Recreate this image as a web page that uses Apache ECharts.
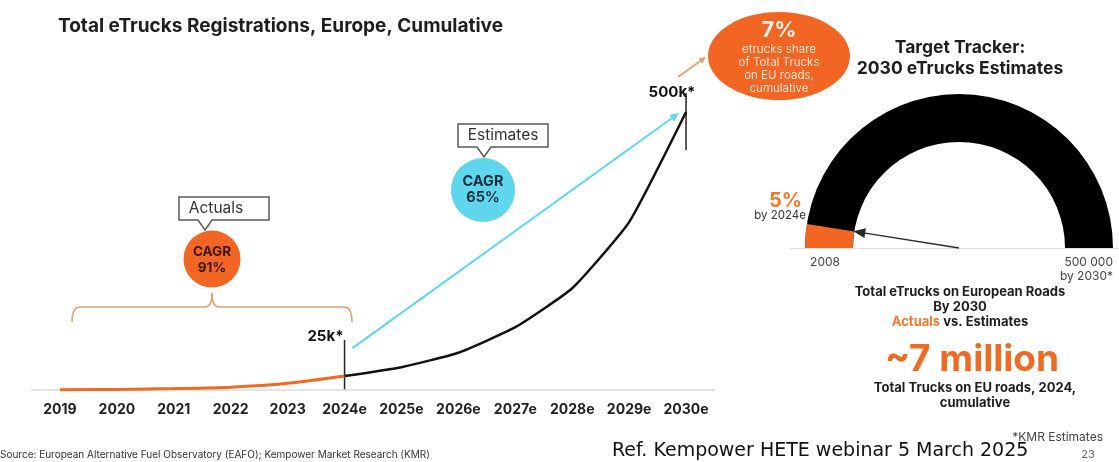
<!DOCTYPE html>
<html>
<head>
<meta charset="utf-8">
<script src="https://cdn.jsdelivr.net/npm/echarts@6/dist/echarts.min.js"></script>
<style>
  html, body { margin: 0; padding: 0; background: #fff; }
  #chart { width: 1119px; height: 462px; }
</style>
</head>
<body>
<div id="chart"></div>
<script>
// Cumulative eTruck registrations in Europe, thousands
const years = ['2019', '2020', '2021', '2022', '2023', '2024e', '2025e', '2026e', '2027e', '2028e', '2029e', '2030e'];
const actuals = [0.5, 1, 2.5, 5, 12, 25, null, null, null, null, null, null];
const estimates = [null, null, null, null, null, 25, 41, 67, 113, 183, 302, 500];

// Target tracker gauge: eTrucks on roads now vs. 2030 target
const trackerNow = 25000;
const trackerTarget = 500000;

const FONT = 'Inter, "Noto Sans", sans-serif';
const ORANGE = '#f26522';
const TAN = '#e3a06c';
const CYAN = '#5fd6ec';

const chart = echarts.init(document.getElementById('chart'), null, { renderer: 'canvas' });

const option = {
  backgroundColor: '#fff',
  animation: false,
  grid: { left: 31.5, right: 404.5, top: 112, bottom: 72 },
  xAxis: {
    type: 'category',
    data: years,
    boundaryGap: true,
    axisLine: { lineStyle: { color: '#dcdcdc', width: 1.5 } },
    axisTick: { show: false },
    axisLabel: { interval: 0, color: '#222', fontFamily: FONT, fontWeight: 'bold', fontSize: 14, margin: 13 }
  },
  yAxis: { type: 'value', min: 0, max: 500, show: false, splitLine: { show: false } },
  series: [
    {
      name: 'Actuals', type: 'line', data: actuals, smooth: 0.3, symbol: 'none',
      lineStyle: { color: '#ef6a22', width: 3 }, z: 3
    },
    {
      name: 'Estimates', type: 'line', data: estimates, smooth: 0.15, symbol: 'none',
      lineStyle: { color: '#111', width: 2.5 }, z: 2
    },
    {
      name: 'Tracker', type: 'gauge',
      center: [959, 248], radius: 154,
      startAngle: 180, endAngle: 0,
      min: 0, max: trackerTarget,
      axisLine: { lineStyle: { width: 48, color: [[1, '#000']] } },
      progress: { show: true, width: 48, itemStyle: { color: ORANGE } },
      splitLine: { show: false }, axisTick: { show: false }, axisLabel: { show: false },
      pointer: {
        icon: 'path://M5,0 L10,12 L5.7,12 L5.7,107 L4.3,107 L4.3,12 L0,12 Z',
        length: 107, width: 10,
        itemStyle: { color: '#2a2a2a' }
      },
      anchor: { show: false }, title: { show: false }, detail: { show: false },
      data: [{ value: trackerNow }]
    }
  ]
};

chart.setOption(option);

// ---- annotations anchored to the data points ----
const i24 = years.indexOf('2024e');
const i30 = years.indexOf('2030e');
const p24 = chart.convertToPixel({ seriesIndex: 1 }, [i24, estimates[i24]]);
const p30 = chart.convertToPixel({ seriesIndex: 1 }, [i30, estimates[i30]]);
const base = chart.convertToPixel({ seriesIndex: 1 }, [0, 0])[1];

function arrow(x1, y1, x2, y2, color, width, head) {
  const a = Math.atan2(y2 - y1, x2 - x1);
  const hx = x2 - head * Math.cos(a), hy = y2 - head * Math.sin(a);
  const nx = -Math.sin(a) * head * 0.45, ny = Math.cos(a) * head * 0.45;
  return [
    { type: 'line', shape: { x1, y1, x2: hx, y2: hy }, style: { stroke: color, lineWidth: width }, silent: true },
    { type: 'polygon', shape: { points: [[x2, y2], [hx + nx, hy + ny], [hx - nx, hy - ny]] }, style: { fill: color }, silent: true }
  ];
}

function seg(x1, y1, x2, y2, color, width) {
  return { type: 'line', shape: { x1, y1, x2, y2 }, style: { stroke: color, lineWidth: width }, silent: true };
}

function curve(x1, y1, cx, cy, x2, y2, color, width) {
  return { type: 'bezierCurve', shape: { x1, y1, x2, y2, cpx1: cx, cpy1: cy }, style: { stroke: color, lineWidth: width, fill: null }, silent: true };
}

function txt(x, y, text, size, color, weight, align, family) {
  return {
    type: 'text', x, y, silent: true,
    style: {
      text, fill: color, fontSize: size, fontWeight: weight || 'normal',
      fontFamily: family || FONT, align: align || 'center', verticalAlign: 'middle'
    }
  };
}

function callout(l, t, r, b, tipX, tipY) {
  return {
    type: 'polygon', silent: true,
    shape: { points: [[l, t], [r, t], [r, b], [tipX + 7, b], [tipX, tipY], [tipX - 7, b], [l, b]] },
    style: { stroke: '#5a5a5a', lineWidth: 1.5, fill: '#fff' }
  };
}

const fmtK = v => v + 'k*';
const share = Math.round(trackerNow / trackerTarget * 100) + '%';

const g = [];
// title
g.push(txt(58, 26, 'Total eTrucks Registrations, Europe, Cumulative', 19, '#1e1e1e', 'bold', 'left'));

// value markers
g.push(seg(p24[0], p24[1] - 36, p24[0], base, '#222', 1.5));
g.push(txt(p24[0] - 1, p24[1] - 40, fmtK(estimates[i24]), 15, '#111', 'bold', 'right'));
g.push(seg(p30[0], p30[1] - 19, p30[0], p30[1] + 38, '#222', 1.5));
g.push(txt(p30[0] - 14, p30[1] - 20, fmtK(estimates[i30]), 15, '#111', 'bold', 'center'));

// growth arrow between the markers
g.push(...arrow(p24[0] + 8, p24[1] - 28, p30[0] - 7, p30[1] + 1, CYAN, 2, 9));
// arrow to share bubble
g.push(...arrow(p30[0] - 8, p30[1] - 35, p30[0] + 20, p30[1] - 55, TAN, 1.8, 7));

// actuals brace
g.push(curve(72, 322, 72, 307, 80, 307, TAN, 1.6));
g.push(seg(80, 307, 205, 307, TAN, 1.6));
g.push(curve(205, 307, 212, 307, 212, 293, TAN, 1.6));
g.push(curve(212, 293, 212, 307, 219, 307, TAN, 1.6));
g.push(seg(219, 307, 344, 307, TAN, 1.6));
g.push(curve(344, 307, 352, 307, 352, 322, TAN, 1.6));

// Actuals callout + bubble
g.push(callout(179, 197, 269, 220, 205, 230));
g.push(txt(216, 208.5, 'Actuals', 15.5, '#333', 'normal'));
g.push({ type: 'circle', shape: { cx: 212, cy: 259, r: 28.5 }, style: { fill: ORANGE }, silent: true });
g.push(txt(212, 252, 'CAGR', 13.5, '#3b1608', 'bold'));
g.push(txt(212, 268, '91%', 13.5, '#3b1608', 'bold'));

// Estimates callout + bubble
g.push(callout(458, 124, 548, 147, 484, 157));
g.push(txt(503, 135.5, 'Estimates', 15.5, '#333', 'normal'));
g.push({ type: 'circle', shape: { cx: 483, cy: 190, r: 32 }, style: { fill: CYAN }, silent: true });
g.push(txt(483, 182, 'CAGR', 14.5, '#14303c', 'bold'));
g.push(txt(483, 198, '65%', 14.5, '#14303c', 'bold'));

// share bubble (circle stretched into an ellipse)
g.push({ type: 'circle', x: 779, y: 56, scaleX: 71 / 44, scaleY: 1, shape: { cx: 0, cy: 0, r: 44 }, style: { fill: ORANGE }, silent: true });
g.push(txt(779, 30, '7%', 22, '#fff1e8', 'bold'));
g.push(txt(779, 50, 'etrucks share', 11.5, '#ffe3d2'));
g.push(txt(779, 63, 'of Total Trucks', 11.5, '#ffe3d2'));
g.push(txt(779, 76, 'on EU roads,', 11.5, '#ffe3d2'));
g.push(txt(779, 89, 'cumulative', 11.5, '#ffe3d2'));

// tracker panel
g.push(txt(960, 48, 'Target Tracker:', 17.5, '#1e1e1e', 'bold'));
g.push(txt(960, 69, '2030 eTrucks Estimates', 17.5, '#1e1e1e', 'bold'));
g.push(seg(790, 248.5, 1119, 248.5, '#dedede', 1));
g.push(txt(802, 201, share, 20, '#ef7a30', 'bold', 'right'));
g.push(txt(806, 216, 'by 2024e', 11.5, '#333', 'normal', 'right'));
g.push(txt(825, 262, '2008', 12, '#444'));
g.push(txt(1113, 262, '500 000', 12, '#444', 'normal', 'right'));
g.push(txt(1113, 276, 'by 2030*', 12, '#444', 'normal', 'right'));

g.push(txt(960, 292, 'Total eTrucks on European Roads', 13, '#1e1e1e', 'bold'));
g.push(txt(960, 307, 'By 2030', 13, '#1e1e1e', 'bold'));
g.push({
  type: 'text', x: 960, y: 322, silent: true,
  style: {
    text: '{o|Actuals} vs. Estimates', align: 'center', verticalAlign: 'middle',
    fontFamily: FONT, fontSize: 13, fontWeight: 'bold', fill: '#1e1e1e',
    rich: { o: { fill: '#ef7a30', fontFamily: FONT, fontSize: 13, fontWeight: 'bold' } }
  }
});
g.push(txt(972, 360, '~7 million', 37, '#ef6a22', 'bold'));
g.push(txt(975, 388, 'Total Trucks on EU roads, 2024,', 13, '#1e1e1e', 'bold'));
g.push(txt(975, 403, 'cumulative', 13, '#1e1e1e', 'bold'));

// footers
g.push(txt(1103, 437, '*KMR Estimates', 12, '#444', 'normal', 'right'));
g.push(txt(1088, 455, '23', 11, '#666'));
g.push(txt(0, 455, 'Source: European Alternative Fuel Observatory (EAFO); Kempower Market Research (KMR)', 10, '#333', 'normal', 'left'));
g.push(txt(612, 451, 'Ref. Kempower HETE webinar 5 March 2025', 19, '#111', 'normal', 'left', '"DejaVu Sans", "Noto Sans", sans-serif'));

chart.setOption({ graphic: { elements: g } });
</script>
</body>
</html>
